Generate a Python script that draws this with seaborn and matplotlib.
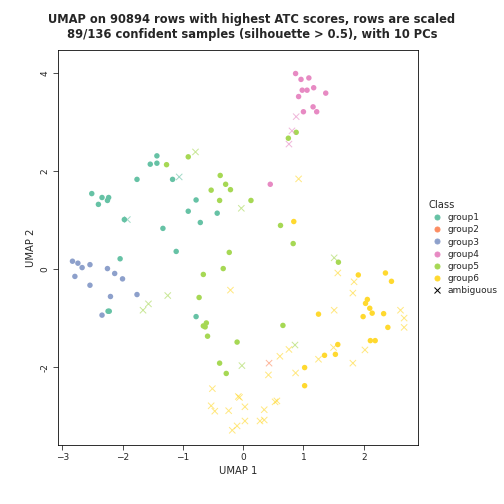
import matplotlib
matplotlib.use("Agg")
import matplotlib.pyplot as plt
import seaborn as sns
import pandas as pd
from matplotlib.lines import Line2D

g1_x = [-1.43,-1.54,-1.43,-1.76,-1.17,-2.51,-2.34,-2.23,-2.25,-2.40,-1.97,-0.78,-0.91,-0.71,-1.33,-1.11,-2.04,-2.24,-2.22,-0.78,-0.43]
g1_y = [2.31,2.14,2.16,1.83,1.83,1.54,1.46,1.46,1.40,1.32,1.01,1.41,1.18,0.95,0.83,0.36,0.21,-0.86,-0.86,-0.97,1.14]
g3_x = [-2.83,-2.74,-2.67,-2.54,-2.79,-2.25,-2.13,-2.00,-2.54,-2.20,-1.76,-2.34]
g3_y = [0.16,0.12,0.03,0.09,-0.15,0.01,-0.09,-0.20,-0.33,-0.56,-0.52,-0.94]
g4_x = [0.87,0.96,1.09,0.98,1.06,1.17,1.37,0.92,1.16,1.22,1.00,0.45]
g4_y = [3.99,3.87,3.90,3.65,3.65,3.70,3.59,3.52,3.31,3.21,3.21,1.73]
g5_x = [-1.27,-0.91,-0.38,-0.29,-0.21,-0.53,-0.39,0.13,-0.23,-0.33,-0.66,-0.73,-0.61,-0.66,-0.63,-0.59,-0.10,-0.39,-0.28,0.88,0.75,0.62,0.83,1.58,0.66]
g5_y = [2.13,2.29,1.91,1.73,1.62,1.61,1.40,1.40,0.34,0.01,-0.11,-0.58,-1.10,-1.16,-1.18,-1.37,-1.49,-1.92,-2.13,2.79,2.67,0.89,0.52,0.14,-1.15]
g6_x = [0.84,1.91,2.36,2.46,2.06,2.03,2.10,2.14,1.99,2.33,2.40,1.25,2.11,2.19,1.57,1.35,1.53,1.02,1.02]
g6_y = [0.97,-0.12,-0.08,-0.25,-0.62,-0.70,-0.80,-0.90,-0.97,-0.91,-1.19,-0.92,-1.46,-1.46,-1.54,-1.76,-1.74,-2.01,-2.38]

amb_x = [-0.79,-1.06,-1.92,-0.03,-0.21,-1.25,-1.57,-1.66,-0.02,0.88,0.81,0.76,0.92,1.51,1.57,1.84,1.82,1.51,2.61,2.67,2.67,2.02,1.82,1.50,1.25,0.86,0.76,0.61,0.87,0.42,-0.51,-0.08,-0.06,0.03,-0.53,-0.47,-0.24,0.35,0.56,0.53,0.03,-0.10,-0.18,0.28,0.35,0.43]
amb_y = [2.39,1.88,1.01,1.24,-0.43,-0.54,-0.71,-0.84,-1.97,3.11,2.82,2.55,1.84,0.23,-0.08,-0.26,-0.49,-0.84,-0.84,-1.00,-1.19,-1.65,-1.92,-1.60,-1.84,-1.55,-1.64,-1.78,-2.12,-2.16,-2.44,-2.60,-2.62,-2.81,-2.79,-2.90,-2.89,-2.87,-2.69,-2.71,-3.10,-3.20,-3.29,-3.10,-3.08,-1.92]
amb_cls = ["group5","group1","group1","group5","group6","group5","group5","group5","group5","group4","group4","group4","group6","group5","group6","group6","group6","group6","group6","group6","group6","group6","group6","group6","group6","group5","group6","group6","group6","group6","group6","group6","group6","group6","group6","group6","group6","group6","group6","group6","group6","group6","group6","group6","group6","group2"]

classes = ["group1","group2","group3","group4","group5","group6"]
pal = dict(zip(classes, sns.color_palette("Set2", 6)))

rows = []
for c, xs, ys in [("group1",g1_x,g1_y),("group3",g3_x,g3_y),("group4",g4_x,g4_y),("group5",g5_x,g5_y),("group6",g6_x,g6_y)]:
    rows += [dict(x=a, y=b, cls=c) for a, b in zip(xs, ys)]
df = pd.DataFrame(rows)
dfa = pd.DataFrame(dict(x=amb_x, y=amb_y, cls=amb_cls))

sns.set_style("white")
fig = plt.figure(figsize=(7, 7), dpi=72)
ax = fig.add_axes([58/504, 59/504, 360/504, 395/504])
sns.scatterplot(data=df, x="x", y="y", hue="cls", palette=pal, s=30, marker="o", edgecolor="none", legend=False, ax=ax)
sns.scatterplot(data=dfa, x="x", y="y", hue="cls", palette=pal, s=40, marker="x", alpha=0.6, linewidth=1, legend=False, ax=ax)
ax.set_xlim(-3.07, 2.9)
ax.set_ylim(-3.59, 4.47)
ax.set_xticks([-3,-2,-1,0,1,2])
ax.set_yticks([-2,0,2,4])
ax.set_yticklabels(["-2","0","2","4"], rotation=90, va="center")
ax.tick_params(axis="both", direction="out", length=5, labelsize=9, left=True, bottom=True)
for s in ax.spines.values():
    s.set_color("black"); s.set_linewidth(0.8)
ax.set_xlabel("UMAP 1", fontsize=10)
ax.set_ylabel("UMAP 2", fontsize=10)
fig.text(0.5, 0.975, "UMAP on 90894 rows with highest ATC scores, rows are scaled\n89/136 confident samples (silhouette > 0.5), with 10 PCs",
         ha="center", va="top", fontsize=11.5, fontweight="bold", linespacing=1.2)
handles = [Line2D([], [], marker="o", ls="", color=pal[c], markersize=5, label=c) for c in classes]
handles.append(Line2D([], [], marker="x", ls="", color="black", markersize=6, label="ambiguous"))
fig.legend(handles=handles, loc="upper left", bbox_to_anchor=(420/504, 312/504), title="Class",
           frameon=False, fontsize=9, title_fontsize=10, handletextpad=0.2, labelspacing=0.35, alignment="left")
fig.savefig("out.png", dpi=72, facecolor="white")
